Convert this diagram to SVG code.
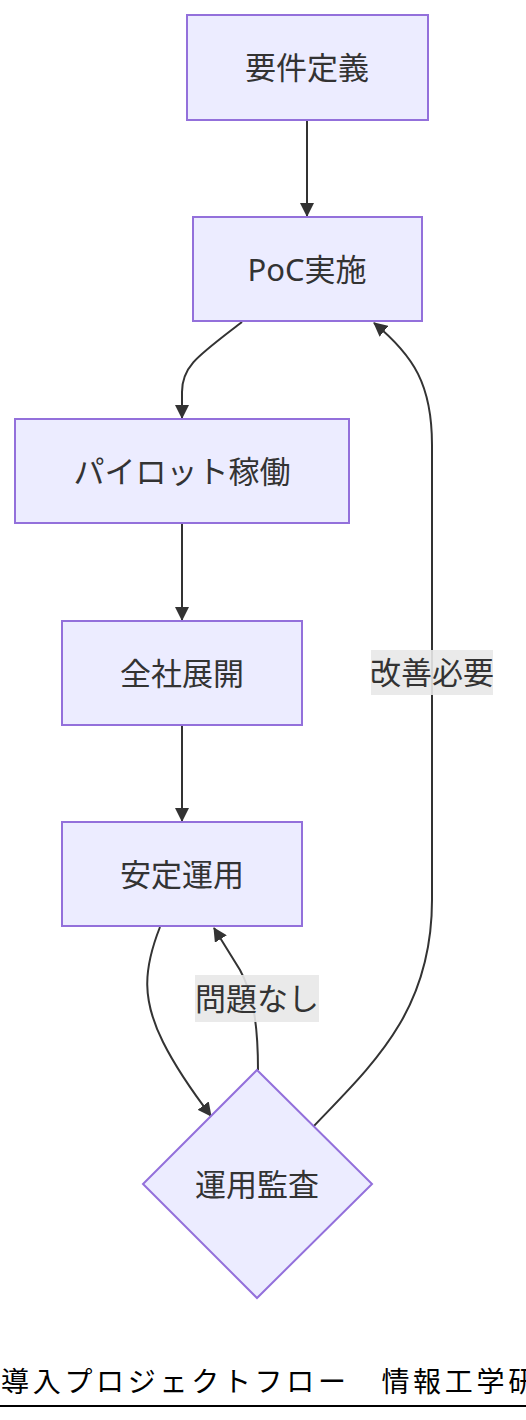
<svg xmlns="http://www.w3.org/2000/svg" width="526" height="1420" viewBox="0 0 526 1420">
<style>
.node rect, .node polygon { fill: #ECECFF; stroke: #9370DB; stroke-width: 2; }
.node text, .lbl text { font-family: "Noto Sans", "Noto Sans CJK JP", sans-serif; font-size: 31px; fill: #333; text-anchor: middle; dominant-baseline: central; }
.edges path { fill: none; stroke: #333; stroke-width: 2; }
.lbl rect { fill: #e8e8e8; opacity: 0.9; }
.caption { font-family: "Noto Sans CJK JP", sans-serif; font-size: 28px; fill: #000; letter-spacing: 3.7px; }
</style>
<defs>
<marker id="arrow" markerUnits="userSpaceOnUse" markerWidth="14" markerHeight="14" refX="13" refY="7" orient="auto">
<path d="M0,0 L14,7 L0,14 z" fill="#333"/>
</marker>
</defs>
<rect width="526" height="1420" fill="#fff"/>
<g id="edges" class="edges">
<path d="M307,120 L307,216" marker-end="url(#arrow)"/>
<path d="M242,322 C198,356 182,366 182,392 L182,418" marker-end="url(#arrow)"/>
<path d="M182,523 L182,620" marker-end="url(#arrow)"/>
<path d="M182,725 L182,821" marker-end="url(#arrow)"/>
<path d="M160,927 C143,970 142,1000 163,1042 C178,1072 195,1095 211,1116" marker-end="url(#arrow)"/>
<path d="M258,1070 C258,1020 252,992 240,970 L214,928" marker-end="url(#arrow)"/>
<path d="M313,1127 C372,1065 432,1012 432,900 L432,445 C432,385 414,356 374,323" marker-end="url(#arrow)"/>
</g>
<g id="label-ok" class="lbl">
<rect x="195" y="975" width="124" height="47"/>
<text x="257" y="998">問題なし</text>
</g>
<g id="label-improve" class="lbl">
<rect x="371" y="650" width="122" height="45"/>
<text x="432" y="672">改善必要</text>
</g>
<g id="n1" class="node">
<rect x="187" y="15" width="241" height="105"/>
<text x="307" y="67">要件定義</text>
</g>
<g id="n2" class="node">
<rect x="193" y="217" width="229" height="104"/>
<text x="307" y="269">PoC実施</text>
</g>
<g id="n3" class="node">
<rect x="15" y="419" width="334" height="104"/>
<text x="182" y="471">パイロット稼働</text>
</g>
<g id="n4" class="node">
<rect x="62" y="621" width="240" height="104"/>
<text x="182" y="673">全社展開</text>
</g>
<g id="n5" class="node">
<rect x="62" y="822" width="240" height="104"/>
<text x="182" y="874">安定運用</text>
</g>
<g id="n6" class="node">
<polygon points="257,1070 372,1184 257,1298 143,1184"/>
<text x="257" y="1184">運用監査</text>
</g>
<g id="caption">
<text class="caption" x="1" y="1392">導入プロジェクトフロー　情報工学研</text>
<line x1="0" y1="1406" x2="526" y2="1406" stroke="#000" stroke-width="2"/>
</g>
</svg>
